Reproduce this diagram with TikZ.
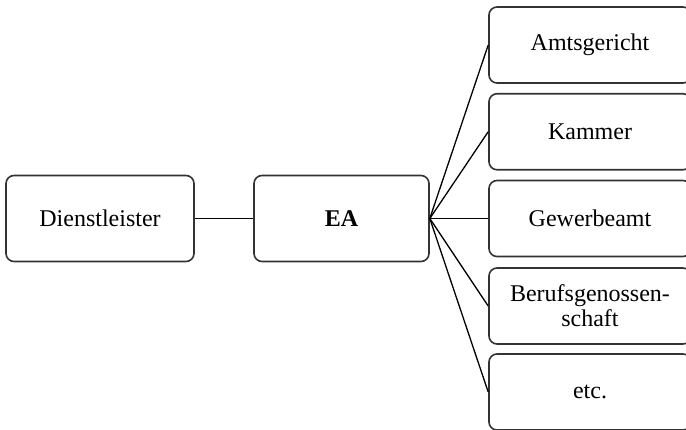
\documentclass[tikz,border=0pt]{standalone}
\usepackage{fontspec}
\setmainfont{Liberation Serif}

\begin{document}
\begin{tikzpicture}[x=1pt,y=-1pt]
        \tikzstyle{every node}=[font=\fontsize{24}{25}\selectfont]
        \tikzstyle{block}=[draw=black!80, line width=1.6pt, rounded corners=8pt, align=center, inner sep=0pt]
        \tikzstyle{leftblock}=[block, minimum height=86pt]
        \tikzstyle{rightblock}=[block, minimum width=202pt, minimum height=76pt]
        \tikzstyle{link}=[line width=1.3pt, black]
        \useasboundingbox (0,0) rectangle (686,429);
        \clip (0,0) rectangle (686,429);
        % left part
        \node[leftblock, minimum width=188pt] (dienst) at (100,218.5) {Dienstleister};
        \node[leftblock, minimum width=175pt] (ea) at (341.5,218.5) {\textbf{EA}};
        % right column
        \node[rightblock] (amt) at (590,45) {Amtsgericht};
        \node[rightblock] (kammer) at (590,131.75) {Kammer};
        \node[rightblock] (gewerbe) at (590,218.5) {Gewerbeamt};
        \node[rightblock] (beruf) at (590,306) {Berufsgenossen-\\schaft};
        \node[rightblock] (etc) at (590,392) {etc.};
        % connectors
        \draw[link] (dienst.east) -- (ea.west);
        \foreach \target in {amt,kammer,gewerbe,beruf,etc}
            \draw[link] (ea.east) -- (\target.west);
    \end{tikzpicture}
\end{document}
